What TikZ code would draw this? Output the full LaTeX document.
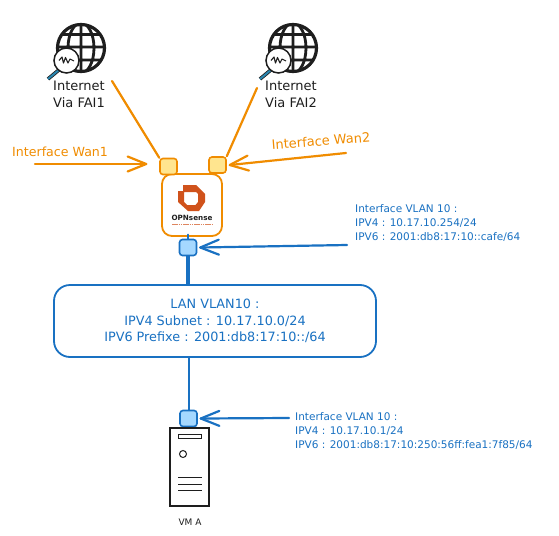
\documentclass[tikz,border=0pt]{standalone}
\usepackage{fontspec}
\setmainfont{DejaVu Sans}
\usetikzlibrary{calc}
\definecolor{orangeL}{HTML}{F08C00}
\definecolor{orangeF}{HTML}{FFE58F}
\definecolor{blueL}{HTML}{1971C2}
\definecolor{blueF}{HTML}{A5D8FF}
\definecolor{ink}{HTML}{1E1E1E}
\definecolor{logo}{HTML}{D0521B}
\definecolor{handle}{HTML}{2A86B0}
\newcommand{\barbhead}[3]{%
  \draw[#1,line join=round] ($(#2)!20pt!22:(#3)$) -- (#2) -- ($(#2)!20pt!-22:(#3)$);}
\tikzset{
  x=1pt,y=-1pt,
  wire/.style={line width=2.2pt,line cap=round},
  orangewire/.style={wire,draw=orangeL},
  bluewire/.style={wire,draw=blueL},
  port/.style={draw,line width=1.6pt,rounded corners=3pt,minimum width=17pt,minimum height=16pt,inner sep=0pt},
  oport/.style={port,draw=orangeL,fill=orangeF},
  bport/.style={port,draw=blueL,fill=blueF},
  txt/.style={inner sep=0pt,align=left,anchor=north west},
  small/.style={txt,text=blueL,font=\fontsize{10.5}{14}\selectfont},
  dark/.style={txt,text=ink,font=\fontsize{13}{17}\selectfont},
  globe/.pic={
    \begin{scope}
      \clip (0,0) circle[radius=24.5];
      \draw[ink,line width=2.8pt]
        (-25,-13.5) -- (25,-13.5) (-25,-1) -- (25,-1) (-25,12) -- (25,12)
        (0,-25) -- (0,25)
        (0,0) ellipse[x radius=13,y radius=25];
    \end{scope}
    \draw[ink,line width=3.2pt] (0,0) circle[radius=23.5];
    \draw[ink,line width=3.6pt] (-21,21) -- (-33,31);
    \draw[handle,line width=2pt] (-21,21) -- (-33,31);
    \draw[ink,line width=1.5pt,fill=white] (-14.5,12.5) circle[radius=12.5];
    \draw[ink,line width=1.1pt,line join=round] (-22,12.5) -- (-19,9) -- (-17.5,15) -- (-15.5,9.5) -- (-13,15) -- (-11,11) -- (-7,13);
  }
}
\begin{document}
\begin{tikzpicture}
\useasboundingbox (0,0) rectangle (559,535);
\fill[white] (0,0) rectangle (559,535);

% globes
\pic at (81,48) {globe};
\pic at (293,48) {globe};
\node[dark] (fai1) at (53,81) {Internet\\Via FAI1};
\node[dark] (fai2) at (265,81) {Internet\\Via FAI2};

% firewall
\node[draw=orangeL,line width=1.8pt,rounded corners=10pt,minimum width=60pt,minimum height=62pt,inner sep=0pt] (fw) at (192,205) {};
\fill[logo,even odd rule]
  (183,185) -- (196,185) -- (205,194) -- (205,202) -- (199,211) -- (188,211) -- (178,202) -- (178,191) -- (183,191) -- cycle
  (184,192) -- (196,192) -- (198,194) -- (198,202) -- (195.5,205) -- (187,205) -- (184,202) -- cycle;
\node[inner sep=0pt,text=ink,font=\bfseries\fontsize{7.2}{9}\selectfont] (opn) at (192,218) {OPNsense};
\draw[logo!70,line width=0.8pt,dash pattern=on 1.5pt off 0.7pt] (172,224.5) -- (212,224.5);

% ports
\node[oport] (wl) at (168.5,166.5) {};
\node[oport] (wr) at (217.5,165) {};
\node[bport] (pf) at (188,247.5) {};
\node[bport] (pv) at (188.5,418.5) {};

% internet links
\coordinate (l1) at (112,81);
\coordinate (l2) at (257,88);
\draw[orangewire] (l1) -- (wl.north west);
\draw[orangewire] (l2) -- (wr.north east);

% wan labels
\node[txt,text=orangeL,font=\fontsize{12.6}{14}\selectfont] (wan1) at (12,147) {Interface Wan1};
\node[inner sep=0pt,rotate=4.5,text=orangeL,font=\fontsize{13}{15}\selectfont] (wan2) at (321,141) {Interface Wan2};
\coordinate (a1) at (35,164);
\coordinate (a2) at (346,153);
\coordinate (t1) at ([xshift=-13pt]wl.west |- a1);
\coordinate (t2) at ([xshift=3pt]wr.east);
\draw[orangewire] (a1) -- (t1);
\draw[orangewire] (a2) -- (t2);
\barbhead{orangewire}{t1}{a1}
\barbhead{orangewire}{t2}{a2}

% LAN
\node[draw=blueL,line width=1.8pt,rounded corners=16pt,minimum width=322pt,minimum height=72pt,inner sep=0pt,
  align=center,text=blueL,font=\fontsize{12.8}{16.5}\selectfont] (lan) at (215,321)
  {LAN VLAN10 :\\IPV4 Subnet : 10.17.10.0/24\\IPV6 Prefixe : 2001:db8:17:10::/64};
\draw[bluewire] (pf.north) -- ++(0,-4);
\draw[bluewire] ([xshift=-0.8pt]pf.south) -- ([xshift=-0.8pt]pf.south |- lan.north);
\draw[bluewire] ([xshift=0.8pt]pf.south) -- ([xshift=0.8pt]pf.south |- lan.north);
\draw[bluewire] ([xshift=0.5pt]pv.north |- lan.south) -- ([xshift=0.5pt]pv.north);

% server
\node[draw=ink,line width=1.2pt,minimum width=39pt,minimum height=78pt,inner sep=0pt] (srv) at (189.5,467) {};
\draw[ink,line width=1pt] (178,434) rectangle (201.5,438.5);
\draw[ink,line width=1pt] (183,454) circle[radius=3.5];
\draw[ink,line width=0.9pt] (178,477.5) -- (201.5,477.5) (178,484) -- (201.5,484) (178,490) -- (201.5,490);
\node[inner sep=0pt,text=ink,font=\fontsize{9}{10}\selectfont] (vma) at (190,522) {VM A};

% interface notes
\node[small] (n1) at (355,204.5) {Interface VLAN 10 :\\IPV4 : 10.17.10.254/24\\IPV6 : 2001:db8:17:10::cafe/64};
\node[small] (n2) at (295,412.5) {Interface VLAN 10 :\\IPV4 : 10.17.10.1/24\\IPV6 : 2001:db8:17:10:250:56ff:fea1:7f85/64};
\coordinate (b1) at (347,245);
\coordinate (b2) at (289,418);
\coordinate (t3) at ([xshift=3pt]pf.east);
\coordinate (t4) at ([xshift=3pt]pv.east);
\draw[bluewire] (b1) -- (t3);
\draw[bluewire] (b2) -- (t4);
\barbhead{bluewire}{t3}{b1}
\barbhead{bluewire}{t4}{b2}
\end{tikzpicture}
\end{document}
